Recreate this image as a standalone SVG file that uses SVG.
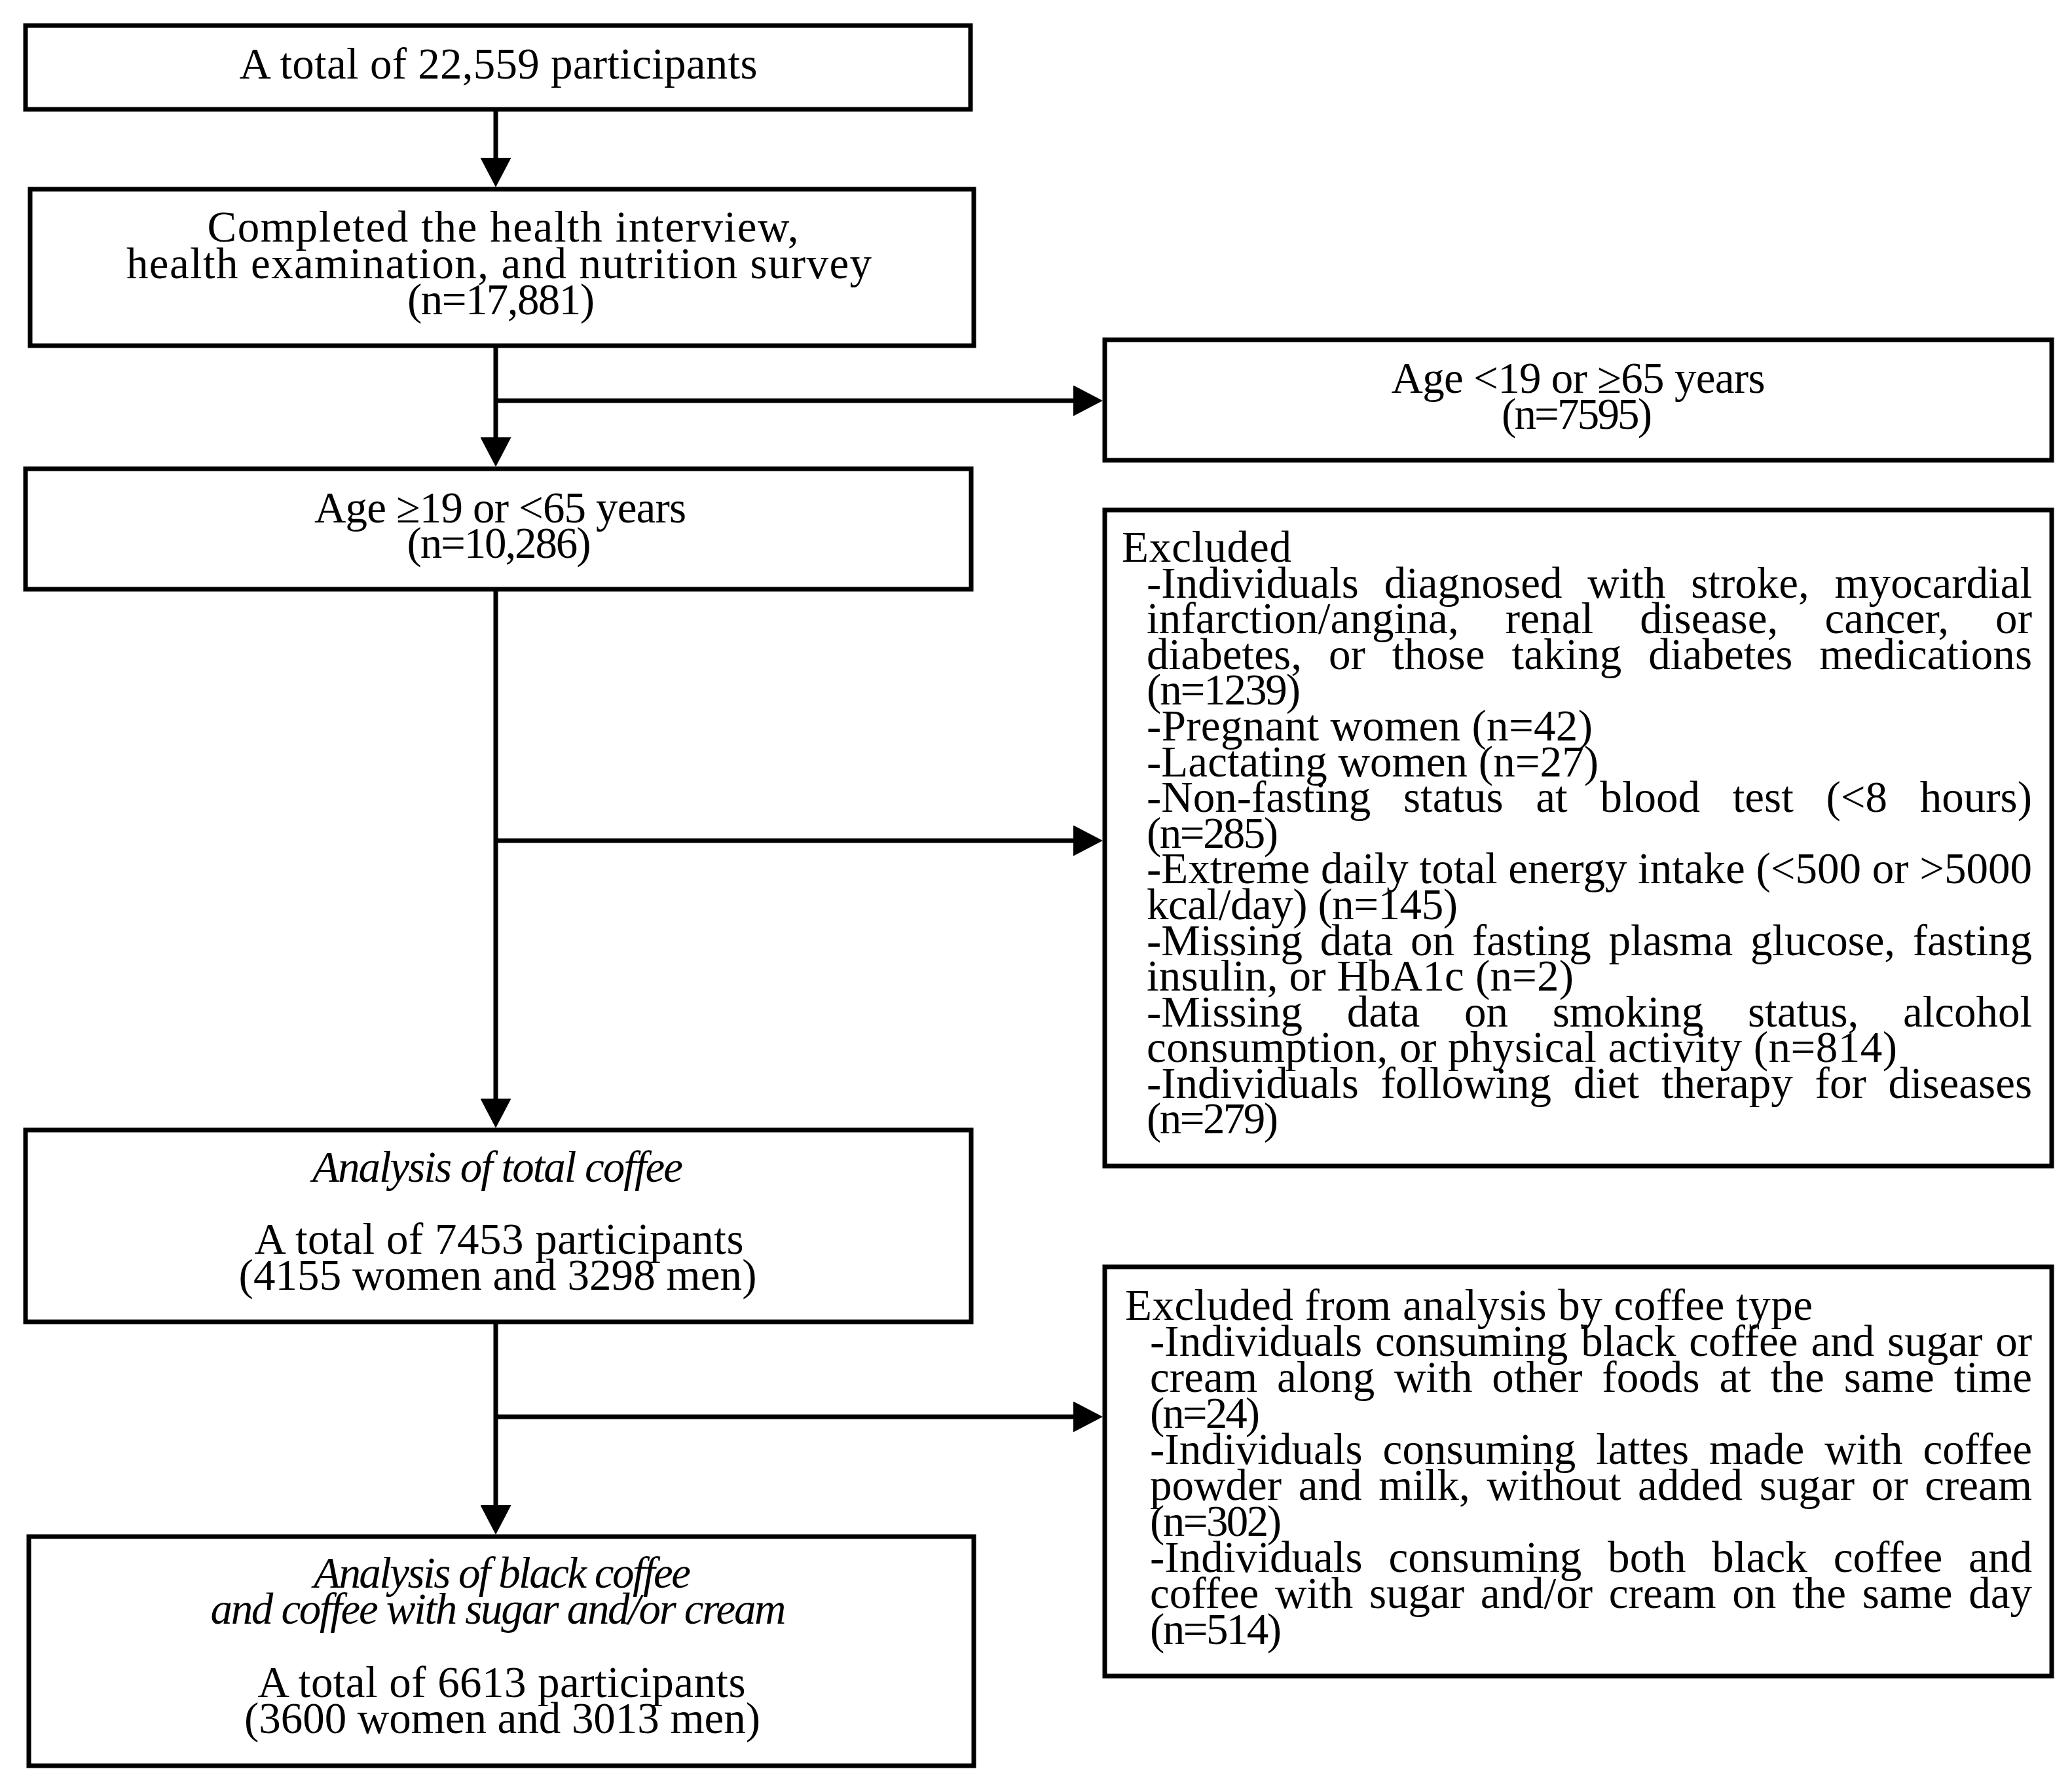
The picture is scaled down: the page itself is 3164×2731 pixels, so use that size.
<svg xmlns="http://www.w3.org/2000/svg" width="3164" height="2731" viewBox="0 0 3164 2731">
<style>
.box{fill:#fff;stroke:#000;stroke-width:7}
.ln{fill:none;stroke:#000;stroke-width:7}
.t{font-family:"Liberation Serif","Times New Roman",serif;font-size:67px;fill:#000}
.c{text-anchor:middle}
.i{font-style:italic}
</style>
<defs>
<marker id="ah" markerUnits="userSpaceOnUse" viewBox="0 0 45 47" markerWidth="45" markerHeight="47" refX="0" refY="23.5" orient="auto">
<path d="M0,0 L45,23.5 L0,47 z" fill="#000"/>
</marker>
</defs>
<rect width="3164" height="2731" fill="#fff"/>
<g id="connectors">
<path class="ln" d="M757,167 V241" marker-end="url(#ah)"/>
<path class="ln" d="M757,528 V668" marker-end="url(#ah)"/>
<path class="ln" d="M757,612 H1639" marker-end="url(#ah)"/>
<path class="ln" d="M757,900 V1678" marker-end="url(#ah)"/>
<path class="ln" d="M757,1284 H1639" marker-end="url(#ah)"/>
<path class="ln" d="M757,2019 V2299" marker-end="url(#ah)"/>
<path class="ln" d="M757,2164 H1639" marker-end="url(#ah)"/>
</g>
<g id="n1">
<rect class="box" x="39" y="39" width="1443" height="128"/>
<text class="t c" x="761" y="120" textLength="791" lengthAdjust="spacing">A total of 22,559 participants</text>
</g>
<g id="n2">
<rect class="box" x="46" y="289" width="1441" height="239"/>
<text class="t c" x="768" y="369" textLength="903" lengthAdjust="spacing">Completed the health interview,</text>
<text class="t c" x="762" y="425" textLength="1138" lengthAdjust="spacing">health examination, and nutrition survey</text>
<text class="t c" x="765" y="480" textLength="286" lengthAdjust="spacing">(n=17,881)</text>
</g>
<g id="n3">
<rect class="box" x="39" y="716" width="1444" height="184"/>
<text class="t c" x="764" y="798" textLength="568" lengthAdjust="spacing">Age ≥19 or &lt;65 years</text>
<text class="t c" x="762" y="852" textLength="281" lengthAdjust="spacing">(n=10,286)</text>
</g>
<g id="n4">
<rect class="box" x="1687" y="519" width="1446" height="184"/>
<text class="t c" x="2410" y="600" textLength="571" lengthAdjust="spacing">Age &lt;19 or ≥65 years</text>
<text class="t c" x="2408" y="655" textLength="230" lengthAdjust="spacing">(n=7595)</text>
</g>
<g id="n5">
<rect class="box" x="1687" y="779" width="1446" height="1002"/>
<text class="t" x="1713" y="858" textLength="259" lengthAdjust="spacing">Excluded</text>
<text class="t" x="1751" y="913" style="word-spacing:22px" textLength="1352" lengthAdjust="spacing">-Individuals diagnosed with stroke, myocardial</text>
<text class="t" x="1751" y="967" style="word-spacing:54px" textLength="1352" lengthAdjust="spacing">infarction/angina, renal disease, cancer, or</text>
<text class="t" x="1751" y="1022" style="word-spacing:24px" textLength="1352" lengthAdjust="spacing">diabetes, or those taking diabetes medications</text>
<text class="t" x="1751" y="1076" textLength="235" lengthAdjust="spacing">(n=1239)</text>
<text class="t" x="1751" y="1131" textLength="681" lengthAdjust="spacing">-Pregnant women (n=42)</text>
<text class="t" x="1751" y="1186" textLength="690" lengthAdjust="spacing">-Lactating women (n=27)</text>
<text class="t" x="1751" y="1240" style="word-spacing:33px" textLength="1352" lengthAdjust="spacing">-Non-fasting status at blood test (&lt;8 hours)</text>
<text class="t" x="1751" y="1295" textLength="201" lengthAdjust="spacing">(n=285)</text>
<text class="t" x="1751" y="1349" textLength="1352" lengthAdjust="spacing">-Extreme daily total energy intake (&lt;500 or &gt;5000</text>
<text class="t" x="1751" y="1404" textLength="475" lengthAdjust="spacing">kcal/day) (n=145)</text>
<text class="t" x="1751" y="1459" style="word-spacing:10px" textLength="1352" lengthAdjust="spacing">-Missing data on fasting plasma glucose, fasting</text>
<text class="t" x="1751" y="1513" textLength="652" lengthAdjust="spacing">insulin, or HbA1c (n=2)</text>
<text class="t" x="1751" y="1568" style="word-spacing:51px" textLength="1352" lengthAdjust="spacing">-Missing data on smoking status, alcohol</text>
<text class="t" x="1751" y="1622" textLength="1146" lengthAdjust="spacing">consumption, or physical activity (n=814)</text>
<text class="t" x="1751" y="1677" style="word-spacing:17px" textLength="1352" lengthAdjust="spacing">-Individuals following diet therapy for diseases</text>
<text class="t" x="1751" y="1731" textLength="201" lengthAdjust="spacing">(n=279)</text>
</g>
<g id="n6">
<rect class="box" x="39" y="1726" width="1444" height="293"/>
<text class="t c i" x="760" y="1805" textLength="566" lengthAdjust="spacing">Analysis of total coffee</text>
<text class="t c" x="762" y="1915" textLength="747" lengthAdjust="spacing">A total of 7453 participants</text>
<text class="t c" x="760" y="1970" textLength="791" lengthAdjust="spacing">(4155 women and 3298 men)</text>
</g>
<g id="n7">
<rect class="box" x="1687" y="1935" width="1446" height="625"/>
<text class="t" x="1718" y="2016" textLength="1050" lengthAdjust="spacing">Excluded from analysis by coffee type</text>
<text class="t" x="1756" y="2071" style="word-spacing:3px" textLength="1347" lengthAdjust="spacing">-Individuals consuming black coffee and sugar or</text>
<text class="t" x="1756" y="2126" style="word-spacing:13px" textLength="1347" lengthAdjust="spacing">cream along with other foods at the same time</text>
<text class="t" x="1756" y="2181" textLength="168" lengthAdjust="spacing">(n=24)</text>
<text class="t" x="1756" y="2236" style="word-spacing:14px" textLength="1347" lengthAdjust="spacing">-Individuals consuming lattes made with coffee</text>
<text class="t" x="1756" y="2291" style="word-spacing:9px" textLength="1347" lengthAdjust="spacing">powder and milk, without added sugar or cream</text>
<text class="t" x="1756" y="2346" textLength="201" lengthAdjust="spacing">(n=302)</text>
<text class="t" x="1756" y="2401" style="word-spacing:23px" textLength="1347" lengthAdjust="spacing">-Individuals consuming both black coffee and</text>
<text class="t" x="1756" y="2456" style="word-spacing:8px" textLength="1347" lengthAdjust="spacing">coffee with sugar and/or cream on the same day</text>
<text class="t" x="1756" y="2511" textLength="201" lengthAdjust="spacing">(n=514)</text>
</g>
<g id="n8">
<rect class="box" x="44" y="2347" width="1443" height="350"/>
<text class="t c i" x="767" y="2425" textLength="576" lengthAdjust="spacing">Analysis of black coffee</text>
<text class="t c i" x="761" y="2480" textLength="879" lengthAdjust="spacing">and coffee with sugar and/or cream</text>
<text class="t c" x="766" y="2592" textLength="745" lengthAdjust="spacing">A total of 6613 participants</text>
<text class="t c" x="767" y="2647" textLength="788" lengthAdjust="spacing">(3600 women and 3013 men)</text>
</g>
</svg>
